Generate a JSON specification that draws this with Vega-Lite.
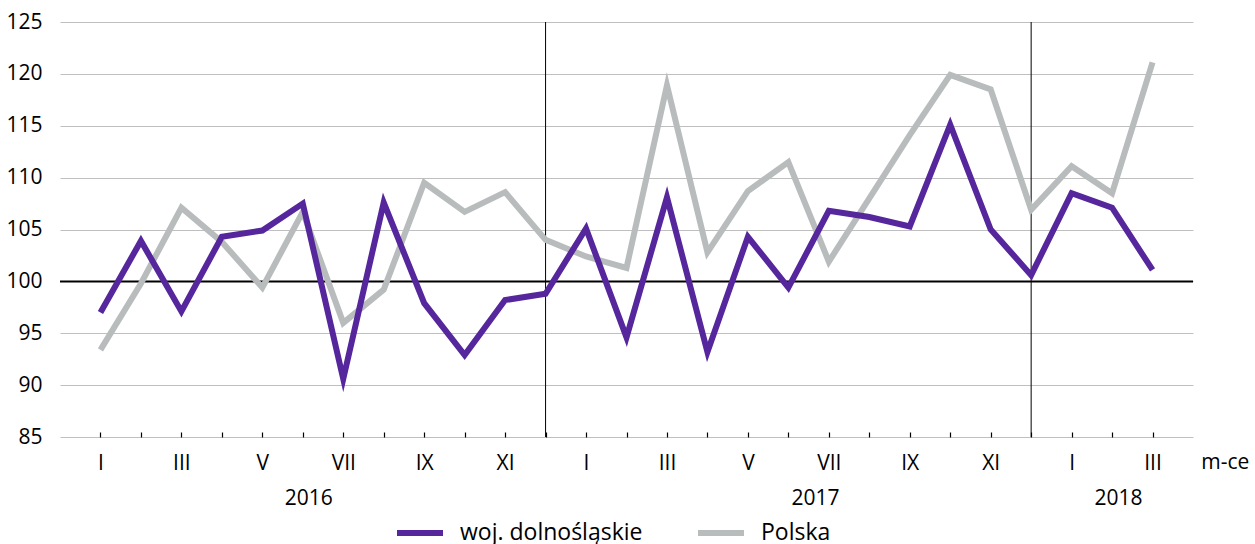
{
  "$schema": "https://vega.github.io/schema/vega-lite/v6.json",
  "autosize": {"type": "none"},
  "width": 1133,
  "height": 415,
  "padding": {"left": 60, "top": 22, "right": 62, "bottom": 107},
  "background": "white",
  "config": {
    "view": {"stroke": null},
    "font": "Open Sans",
    "axis": {"labelFont": "Open Sans", "labelFontSize": 21, "labelColor": "#000000"}
  },
  "datasets": {
    "series": [
      {"i": 0, "woj": 97.0, "pl": 93.4},
      {"i": 1, "woj": 103.9, "pl": 99.8},
      {"i": 2, "woj": 97.1, "pl": 107.1},
      {"i": 3, "woj": 104.3, "pl": 103.8},
      {"i": 4, "woj": 104.9, "pl": 99.4},
      {"i": 5, "woj": 107.5, "pl": 106.7},
      {"i": 6, "woj": 90.6, "pl": 96.0},
      {"i": 7, "woj": 107.6, "pl": 99.2},
      {"i": 8, "woj": 97.9, "pl": 109.5},
      {"i": 9, "woj": 92.9, "pl": 106.7},
      {"i": 10, "woj": 98.2, "pl": 108.6},
      {"i": 11, "woj": 98.8, "pl": 104.0},
      {"i": 12, "woj": 105.1, "pl": 102.4},
      {"i": 13, "woj": 94.6, "pl": 101.3},
      {"i": 14, "woj": 108.1, "pl": 118.9},
      {"i": 15, "woj": 93.2, "pl": 102.8},
      {"i": 16, "woj": 104.3, "pl": 108.7},
      {"i": 17, "woj": 99.4, "pl": 111.5},
      {"i": 18, "woj": 106.8, "pl": 101.9},
      {"i": 19, "woj": 106.2, "pl": 108.0},
      {"i": 20, "woj": 105.3, "pl": 114.1},
      {"i": 21, "woj": 115.1, "pl": 119.9},
      {"i": 22, "woj": 105.0, "pl": 118.5},
      {"i": 23, "woj": 100.6, "pl": 106.9},
      {"i": 24, "woj": 108.5, "pl": 111.1},
      {"i": 25, "woj": 107.1, "pl": 108.5},
      {"i": 26, "woj": 101.1, "pl": 121.1}
    ],
    "seps": [{"i": 11}, {"i": 23}],
    "base": [{"v": 100}],
    "labels": [
      {"i": 5.15, "v": 79.0, "t": "2016"},
      {"i": 17.67, "v": 79.0, "t": "2017"},
      {"i": 25.16, "v": 79.0, "t": "2018"},
      {"i": 27.8, "v": 82.5, "t": "m-ce"}
    ]
  },
  "layer": [
    {
      "data": {"name": "series"},
      "mark": {"type": "rule", "opacity": 0},
      "encoding": {
        "x": {
          "field": "i", "type": "quantitative",
          "scale": {"domain": [-1, 27], "nice": false, "zero": false},
          "axis": {
            "title": null,
            "values": [0,1,2,3,4,5,6,7,8,9,10,11,12,13,14,15,16,17,18,19,20,21,22,23,24,25,26],
            "labelExpr": "datum.value % 2 == 0 ? ['I','II','III','IV','V','VI','VII','VIII','IX','X','XI','XII'][datum.value % 12] : ''",
            "grid": false,
            "domain": false,
            "ticks": true,
            "tickSize": -5,
            "tickColor": "#000000",
            "tickWidth": 1.2,
            "labelPadding": 20,
            "labelFlush": false,
            "labelOverlap": false
          }
        },
        "y": {
          "field": "woj", "type": "quantitative",
          "scale": {"domain": [85, 125], "nice": false, "zero": false},
          "axis": {
            "title": null,
            "values": [85, 90, 95, 100, 105, 110, 115, 120, 125],
            "grid": true,
            "gridColor": "#bfbfbf",
            "gridWidth": 1.2,
            "domain": false,
            "ticks": false,
            "labelPadding": 18
          }
        }
      }
    },
    {
      "data": {"name": "base"},
      "mark": {"type": "rule", "color": "#000000", "strokeWidth": 2},
      "encoding": {"y": {"field": "v", "type": "quantitative"}}
    },
    {
      "data": {"name": "seps"},
      "mark": {"type": "rule", "color": "#000000", "strokeWidth": 1},
      "encoding": {"x": {"field": "i", "type": "quantitative"}}
    },
    {
      "data": {"name": "series"},
      "mark": {"type": "line", "strokeWidth": 6, "strokeJoin": "miter", "strokeMiterLimit": 10},
      "encoding": {
        "x": {"field": "i", "type": "quantitative"},
        "y": {"field": "pl", "type": "quantitative"},
        "color": {"datum": "Polska"}
      }
    },
    {
      "data": {"name": "series"},
      "mark": {"type": "line", "strokeWidth": 6, "strokeJoin": "miter", "strokeMiterLimit": 10},
      "encoding": {
        "x": {"field": "i", "type": "quantitative"},
        "y": {"field": "woj", "type": "quantitative"},
        "color": {
          "datum": "woj. dolnośląskie",
          "type": "nominal",
          "scale": {"domain": ["woj. dolnośląskie", "Polska"], "range": ["#55269c", "#b9bcbd"]},
          "legend": {
            "title": null,
            "orient": "none",
            "direction": "horizontal",
            "legendX": 334,
            "legendY": 485,
            "symbolType": "stroke",
            "symbolSize": 2116,
            "symbolStrokeWidth": 6,
            "labelFont": "Open Sans",
            "labelFontSize": 23,
            "labelColor": "#000000",
            "labelOffset": 14,
            "labelLimit": 400,
            "columnPadding": 43,
            "encode": {"symbols": {"update": {"strokeWidth": {"value": 6}}}}
          }
        }
      }
    },
    {
      "data": {"name": "labels"},
      "mark": {"type": "text", "fontSize": 21, "font": "Open Sans", "color": "#000000", "align": "center", "baseline": "middle"},
      "encoding": {
        "x": {"field": "i", "type": "quantitative"},
        "y": {"field": "v", "type": "quantitative"},
        "text": {"field": "t"}
      }
    }
  ]
}
